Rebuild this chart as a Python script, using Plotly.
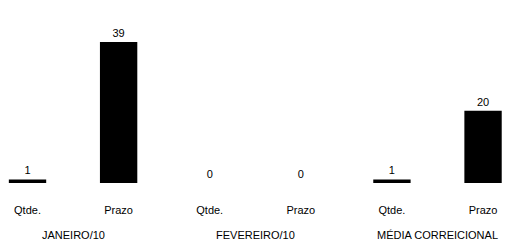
import plotly.graph_objects as go

groups = ["JANEIRO/10", "FEVEREIRO/10", "MÉDIA CORREICIONAL"]
subcats = ["Qtde.", "Prazo", "Qtde.", "Prazo", "Qtde.", "Prazo"]
values = [1, 39, 0, 0, 1, 20]

FONT = "Liberation Sans Narrow, Arial Narrow, Liberation Sans, Arial"

xpos = list(range(len(subcats)))

fig = go.Figure()
fig.add_trace(go.Bar(
    x=xpos,
    y=values,
    marker=dict(color="black", line=dict(width=0)),
    text=[str(v) for v in values],
    textposition="outside",
    textfont=dict(family=FONT, size=11, color="black"),
    outsidetextfont=dict(family=FONT, size=11, color="black"),
    cliponaxis=False,
    width=0.41,
    hoverinfo="skip",
))

per_group = len(subcats) // len(groups)
for gi, g in enumerate(groups):
    center = gi * per_group + (per_group - 1) / 2
    fig.add_annotation(
        x=center, y=0, xref="x", yref="paper",
        text=g, showarrow=False,
        yanchor="middle", yshift=-52,
        font=dict(family=FONT, size=11, color="black"),
    )

fig.update_layout(
    width=505, height=247,
    margin=dict(l=0, r=0, t=20, b=64),
    paper_bgcolor="white", plot_bgcolor="white",
    showlegend=False,
    font=dict(family=FONT, size=11, color="black"),
)
fig.update_xaxes(
    range=[-0.302, 5.241],
    tickvals=xpos, ticktext=subcats,
    showline=False, showgrid=False, zeroline=False,
    ticks="outside", ticklen=17, tickcolor="rgba(0,0,0,0)",
    tickfont=dict(family=FONT, size=11, color="black"),
    fixedrange=True,
)
fig.update_yaxes(
    range=[0, 45.1],
    visible=False,
    fixedrange=True,
)

fig.write_html(
    "out.html",
    config={"displayModeBar": False, "staticPlot": True},
    post_script="document.body.style.margin='0';document.body.style.overflow='hidden';",
)
